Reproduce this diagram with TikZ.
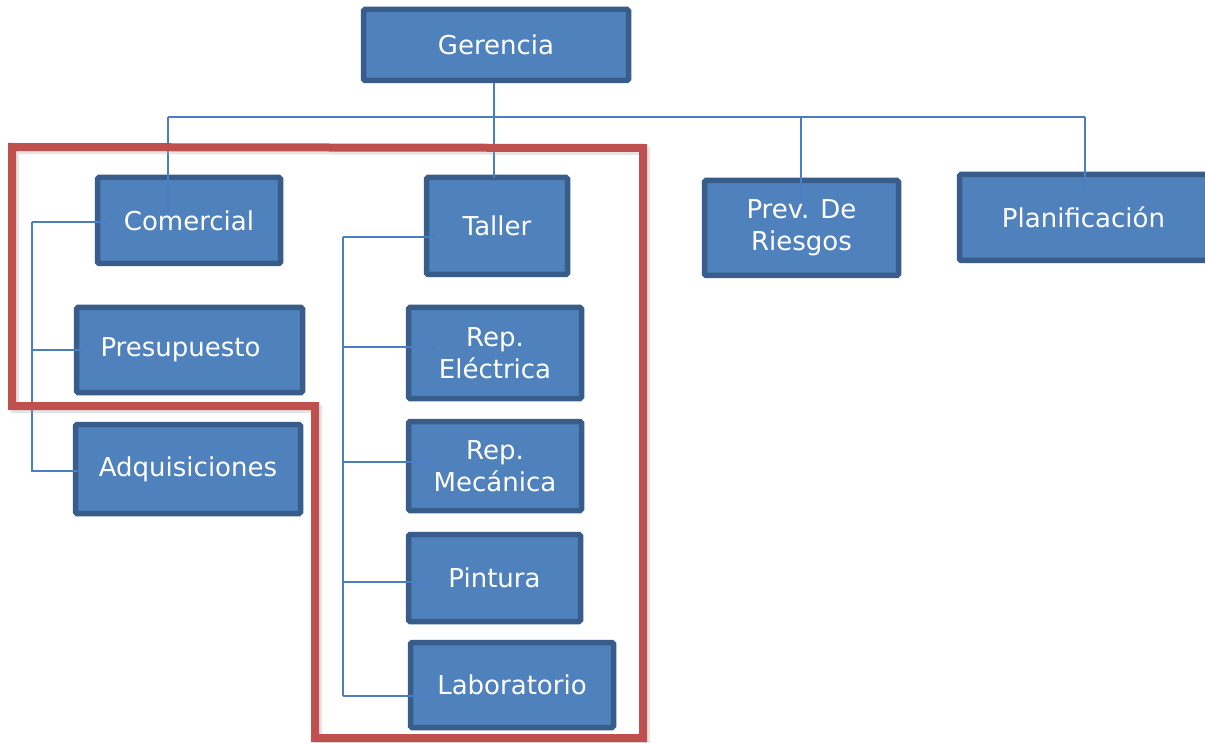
\documentclass[tikz,border=0pt]{standalone}
\usepackage{fontspec}
\setmainfont{DejaVu Sans}
\usetikzlibrary{calc}
\definecolor{boxfill}{HTML}{4F81BD}
\definecolor{boxline}{HTML}{385D8A}
\definecolor{linkcol}{HTML}{4A7EC4}
\definecolor{framered}{HTML}{C0504D}
\tikzset{
  orgbox/.style={draw=boxline, fill=boxfill, line width=5.5pt, rounded corners=1.5pt,
    inner sep=0pt},
  orgtext/.style={text=white, align=center, inner sep=0pt,
    font=\fontsize{26}{32}\selectfont},
  link/.style={draw=linkcol, line width=1.8pt},
  frameline/.style={draw=framered, line width=8pt, line join=miter},
  frameshadow/.style={draw=black!35, opacity=0.3, line width=8pt},
}
\begin{document}
\begin{tikzpicture}[x=1pt, y=-1pt]
\clip (0,0) rectangle (1205,743);
\fill[white] (0,0) rectangle (1205,743);

% boxes (centre, size = outer size minus border width)
\node[orgbox, minimum width=265pt, minimum height=71pt] (ger) at (496,45) {};
\node[orgbox, minimum width=183pt, minimum height=86pt] (com) at (189,220.5) {};
\node[orgbox, minimum width=226pt, minimum height=85pt] (pre) at (189.5,350) {};
\node[orgbox, minimum width=225pt, minimum height=89pt] (adq) at (188,469) {};
\node[orgbox, minimum width=141pt, minimum height=97pt] (tal) at (497,226) {};
\node[orgbox, minimum width=173pt, minimum height=91pt] (ele) at (495,353) {};
\node[orgbox, minimum width=173pt, minimum height=89pt] (mec) at (495,466) {};
\node[orgbox, minimum width=172pt, minimum height=87pt] (pin) at (494.5,578) {};
\node[orgbox, minimum width=203pt, minimum height=85pt] (lab) at (512,685) {};
\node[orgbox, minimum width=194pt, minimum height=95pt] (prv) at (801.5,228) {};
\node[orgbox, minimum width=248pt, minimum height=86pt] (pla) at (1083.5,217.5) {};

% bus and bracket spines
\coordinate (busL) at (168,117);
\coordinate (busR) at (1085,117);
\coordinate (busM) at (494,117);
\coordinate (busP) at (801,117);
\coordinate (lspT) at (32,222);
\coordinate (lspB) at (32,472);
\coordinate (tspT) at (343,237);
\coordinate (tspB) at (343,696);

% top level connectors
\draw[link] (busM |- ger.south) -- (busM);
\draw[link] (busL) -- (busR);
\draw[link] (busL) -- ([yshift=-4pt]busL |- com.center);
\draw[link] (busM) -- ([yshift=-3pt]busM |- tal.north);
\draw[link] (busP) -- ([yshift=-30pt]busP |- prv.north);
\draw[link] (busR) -- ([yshift=-16pt]busR |- pla.north);

% left bracket
\draw[link] (lspT) -- (lspB);
\draw[link] (lspT) -- ([xshift=14pt]com.west |- lspT);
\draw[link] (lspT |- 0,350) -- ([xshift=11pt]pre.west |- 0,350);
\draw[link] (lspB |- 0,471) -- ([xshift=5pt]adq.west |- 0,471);

% workshop bracket
\draw[link] (tspT) -- (tspB);
\draw[link] (tspT) -- ([xshift=12pt]tal.west |- tspT);
\draw[link] (tspT |- 0,347) -- ([xshift=30pt]ele.west |- 0,347);
\draw[link] (tspT |- 0,462) -- ([xshift=29pt]mec.west |- 0,462);
\draw[link] (tspT |- 0,582) -- ([xshift=29pt]pin.west |- 0,582);
\draw[link] (tspB) -- ([xshift=27pt]lab.west |- tspB);

% labels, set over the connectors
\node[orgtext] (gerT) at (ger) {Gerencia};
\node[orgtext] (comT) at (com) {Comercial};
\node[orgtext] (preT) at ([xshift=-9pt]pre.center) {Presupuesto};
\node[orgtext] (adqT) at (adq) {Adquisiciones};
\node[orgtext] (talT) at (tal) {Taller};
\node[orgtext] (eleT) at (ele) {Rep.\\Eléctrica};
\node[orgtext] (mecT) at (mec) {Rep.\\Mecánica};
\node[orgtext] (pinT) at (pin) {Pintura};
\node[orgtext] (labT) at (lab) {Laboratorio};
\node[orgtext] (prvT) at (prv) {Prev. De\\Riesgos};
\node[orgtext] (plaT) at (pla) {Planificación};

% red outline with soft shadow
\coordinate (f1) at (12,147);
\coordinate (f2) at (643,148);
\coordinate (f3) at (643,738);
\coordinate (f4) at (315,738);
\coordinate (f5) at (315,406);
\coordinate (f6) at (12,406);
\draw[frameshadow] ([shift={(3,3)}]f1) -- ([shift={(3,3)}]f2) -- ([shift={(3,3)}]f3) -- ([shift={(3,3)}]f4) -- ([shift={(3,3)}]f5) -- ([shift={(3,3)}]f6) -- cycle;
\draw[frameline] (f1) -- (f2) -- (f3) -- (f4) -- (f5) -- (f6) -- cycle;
\end{tikzpicture}
\end{document}
